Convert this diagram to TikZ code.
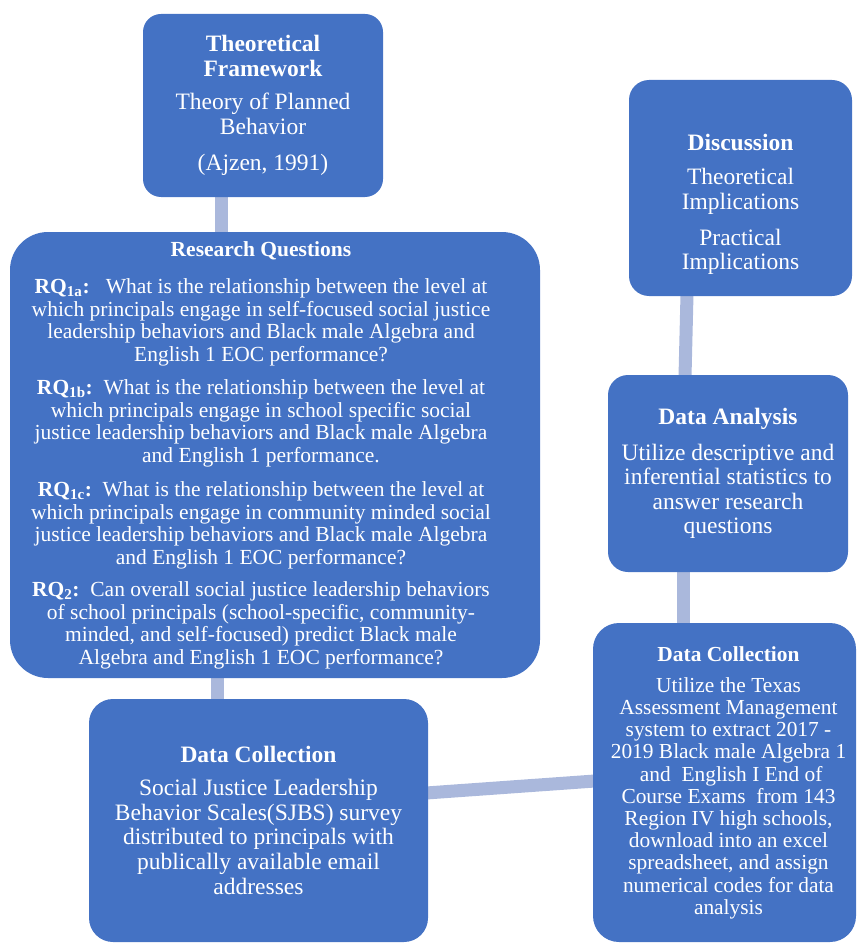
\documentclass[tikz,border=0pt]{standalone}
\usepackage{fontspec}
\setmainfont{Liberation Serif}
\usepackage{tikz}
\usetikzlibrary{backgrounds}
\definecolor{boxblue}{RGB}{68,114,196}
\definecolor{linkblue}{RGB}{170,184,220}
\tikzset{my_chart/.style={x=1pt,y=-1pt}}
\tikzset{my_box/.style={rectangle, fill=boxblue, text=white, align=center, inner sep=0pt}}
\tikzset{my_words/.style={text=white, align=center, inner sep=0pt}}
\tikzset{my_large/.style={font=\fontsize{23.5}{24.5}\selectfont}}
\tikzset{my_link/.style={draw=linkblue, line width=13pt}}

\begin{document}
\begin{tikzpicture}[my_chart]
    \useasboundingbox (0,0) rectangle (858,944);
    %\draw[help lines, step=50] (0,0) grid (858,944);
    \node[my_box, my_large, rounded corners=18pt, minimum width=240pt, minimum height=183pt] (frame) at (263,105.5)
        {\textbf{Theoretical}\\ \textbf{Framework}\\[9pt] Theory of Planned\\ Behavior\\[12pt] (Ajzen, 1991)};
    \node[my_box, rounded corners=38pt, minimum width=530pt, minimum height=446pt,
          label={[my_words, xshift=-14pt, font=\fontsize{21.5}{22.5}\selectfont]center:{%
         \textbf{Research Questions}\\[15pt]
         \textbf{RQ\textsubscript{1a}:}\ \ \ What is the relationship between the level at\\
         which principals engage in self-focused social justice\\
         leadership behaviors and Black male Algebra and\\
         English 1 EOC performance?\\[11pt]
         \textbf{RQ\textsubscript{1b}:}\ \ What is the relationship between the level at\\
         which principals engage in school specific social\\
         justice leadership behaviors and Black male Algebra\\
         and English 1 performance.\\[12pt]
         \textbf{RQ\textsubscript{1c}:}\ \ What is the relationship between the level at\\
         which principals engage in community minded social\\
         justice leadership behaviors and Black male Algebra\\
         and English 1 EOC performance?\\[10pt]
         \textbf{RQ\textsubscript{2}:}\ \ Can overall social justice leadership behaviors\\
         of school principals (school-specific, community-\\
         minded, and self-focused) predict Black male\\
         Algebra and English 1 EOC performance?}}] (questions) at (275,455) {};
    \node[my_box, rounded corners=24pt, minimum width=339pt, minimum height=243pt,
          font=\fontsize{23.5}{24.8}\selectfont] (survey) at (258.5,820.5)
        {\textbf{Data Collection}\\[8pt] Social Justice Leadership\\ Behavior Scales(SJBS) survey\\
         distributed to principals with\\ publically available email\\ addresses};
    \node[my_box, rounded corners=26pt, minimum width=263pt, minimum height=319pt,
          label={[my_words, xshift=4pt, font=\fontsize{21.4}{22.2}\selectfont]center:{%
         \textbf{Data Collection}\\[9pt] Utilize the Texas\\ Assessment Management\\
         system to extract 2017 -\\ 2019 Black male Algebra 1\\ \ and\ \ English I End of\\
         Course Exams\ \ from 143\\ Region IV high schools,\\ download into an excel\\
         spreadsheet, and assign\\ numerical codes for data\\ analysis}}] (records) at (724.5,782.5) {};
    \node[my_box, my_large, rounded corners=20pt, minimum width=240pt, minimum height=197pt] (analysis) at (728,473.5)
        {\textbf{Data Analysis}\\[11pt] Utilize descriptive and\\ inferential statistics to\\ answer research\\ questions};
    \node[my_box, my_large, rounded corners=20pt, minimum width=223pt, minimum height=216pt] (discussion) at (740.5,188)
        {\rule{0pt}{49pt}\textbf{Discussion}\\[10pt] Theoretical\\ Implications\\[11pt] Practical\\ Implications};

    \begin{scope}[on background layer]
    \path
        ([xshift=-42pt,yshift=2pt]frame.south) edge [my_link] ([xshift=-54pt,yshift=-2pt]questions.north)
        ([xshift=-58pt,yshift=2pt]questions.south) edge [my_link] ([xshift=-41.5pt,yshift=-2pt]survey.north)
        ([xshift=-2pt,yshift=27.5pt]survey.east) edge [my_link] ([xshift=2pt,yshift=1.5pt]records.west)
        ([xshift=-41.5pt,yshift=-2pt]records.north) edge [my_link] ([xshift=-45pt,yshift=2pt]analysis.south)
        ([xshift=-43pt,yshift=-2pt]analysis.north) edge [my_link] ([xshift=-53.5pt,yshift=2pt]discussion.south)
    ;
    \end{scope}
\end{tikzpicture}
\end{document}
